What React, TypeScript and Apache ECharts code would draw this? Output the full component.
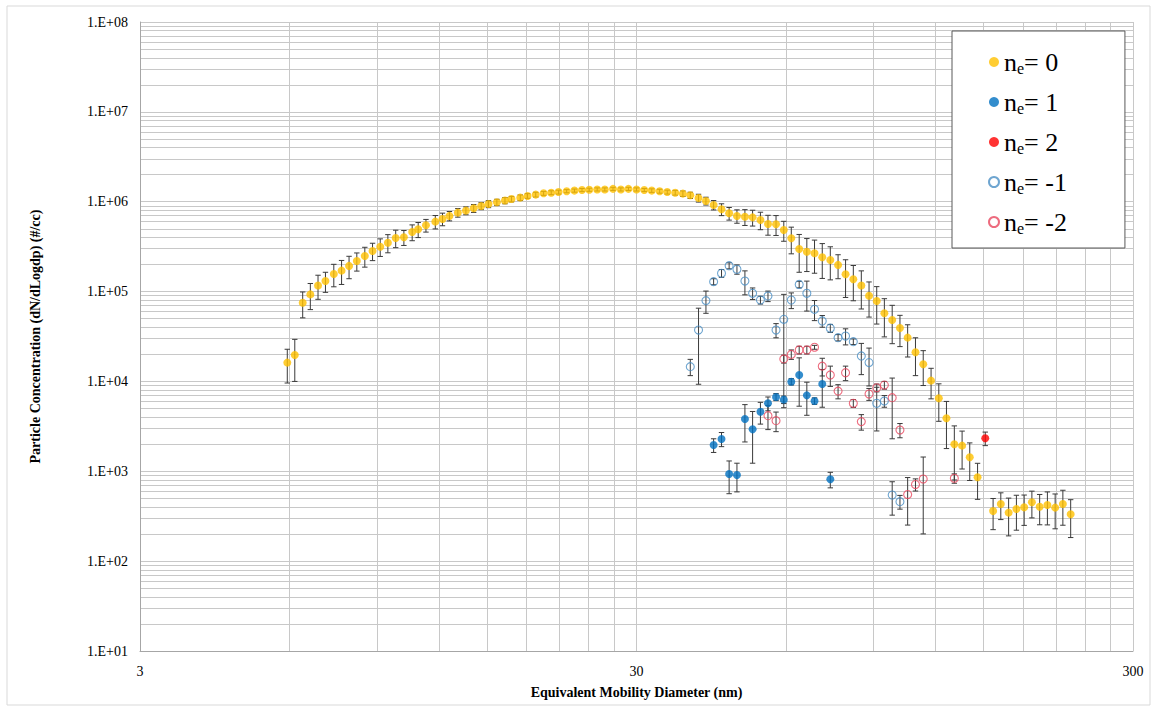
import React, { useEffect, useRef } from 'react';
import * as echarts from 'echarts';

// Mobility diameters (nm), SMPS channel midpoints
const diameters = [
  5.94, 6.15, 6.38, 6.61, 6.85, 7.09, 7.37, 7.64, 7.91, 8.2, 8.51, 8.82, 9.14, 9.47, 9.82, 10.2,
  10.6, 10.9, 11.3, 11.8, 12.2, 12.6, 13.1, 13.6, 14.1, 14.6, 15.1, 15.7, 16.3, 16.8, 17.5, 18.1,
  18.8, 19.5, 20.2, 20.9, 21.7, 22.5, 23.3, 24.1, 25.0, 25.9, 26.9, 27.9, 28.9, 30.0, 31.1, 32.2,
  33.4, 34.6, 35.9, 37.2, 38.5, 40.0, 41.4, 42.9, 44.5, 46.1, 47.8, 49.6, 51.4, 53.3, 55.2, 57.3,
  59.4, 61.5, 63.8, 66.1, 68.5, 71.0, 73.7, 76.4, 79.1, 82.0, 85.1, 88.2, 91.4, 94.7, 98.2, 101.8,
  105.5, 109.4, 113.4, 117.6, 121.9, 126.3, 131.0, 135.8, 140.7, 145.9, 151.2, 156.8, 162.5, 168.5,
  174.7, 181.1, 187.7, 194.6, 201.7, 209.1, 216.7, 224.7,
];

// n_e = 0
const ne0 = [
  16200, 19700, 75000, 93000, 117000, 131000, 157000, 171000, 193000, 219000, 249000, 283000,
  316000, 350000, 395000, 402000, 460000, 493000, 547000, 600000, 643000, 695000, 756000, 796000,
  845000, 896000, 944000, 985000, 1030000, 1070000, 1110000, 1160000, 1200000, 1240000, 1260000,
  1280000, 1310000, 1330000, 1350000, 1360000, 1370000, 1370000, 1390000, 1370000, 1390000, 1370000,
  1350000, 1330000, 1310000, 1280000, 1260000, 1230000, 1180000, 1100000, 1020000, 920000, 824000,
  743000, 694000, 680000, 670000, 626000, 565000, 561000, 484000, 392000, 298000, 278000, 267000,
  241000, 225000, 198000, 156000, 137000, 117000, 90000, 78500, 57300, 48300, 39400, 30700, 21100,
  15500, 10200, 6500, 3890, 2000, 1930, 1430, 857, null, 361, 433, 347, 381, 397, 452, 403, 421,
  394, 433, 333,
];
const ne0Err = [
  6600, 9700, 24000, 30000, 35000, 33000, 44000, 51000, 54000, 50000, 62000, 62000, 70000, 80000,
  87000, 76000, 92000, 94000, 88000, 102000, 103000, 83000, 83000, 80000, 85000, 81000, 85000,
  79000, 82000, 75000, 78000, 70000, 72000, 62000, 63000, 64000, 52000, 53000, 54000, 54000, 55000,
  55000, 56000, 55000, 56000, 55000, 54000, 60000, 66000, 64000, 76000, 86000, 94000, 110000,
  102000, 110000, 124000, 119000, 118000, 136000, 134000, 138000, 141000, 140000, 121000, 129000,
  134000, 111000, 107000, 101000, 90000, 59000, 70000, 58000, 53000, 38000, 35000, 26000, 22000,
  15000, 12000, 9500, 6500, 3800, 2900, 2100, 1200, 870, 640, 370, null, 137, 143, 156, 160, 147,
  149, 149, 168, 165, 182, 150,
];

// n_e = 1
const ne1Diam = [42.9, 44.5, 46.1, 47.8, 49.6, 51.4, 53.3, 55.2, 57.3, 59.4, 61.5, 63.8, 66.1, 68.5, 71.0, 73.7];
const ne1 = [1960, 2290, 933, 910, 3820, 2930, 4600, 5710, 6720, 6270, 9930, 11800, 7000, 6060, 9360, 814];
const ne1Err = [340, 410, 370, 320, 1700, 1700, 1250, 1000, 600, 600, 800, 6500, 2800, 500, 4200, 160];

// n_e = 2
const ne2Diam = [151.2];
const ne2 = [2330];
const ne2Err = [400];

// n_e = -1
const neM1Diam = [
  38.5, 40.0, 41.4, 42.9, 44.5, 46.1, 47.8, 49.6, 51.4, 53.3, 55.2, 57.3, 59.4, 61.5, 63.8, 66.1,
  68.5, 71.0, 73.7, 76.4, 79.1, 82.0, 85.1, 88.2, 91.4, 94.7, 98.2, 101.8,
];
const neM1 = [
  14600, 37300, 79300, 129000, 160000, 194000, 177000, 131000, 95700, 80600, 89300, 37300, 49100,
  80600, 120000, 95700, 63500, 47100, 39100, 30700, 32000, 27700, 19200, 16200, 5710, 6060, 545, 459,
];
const neM1Err = [
  3000, 28000, 22000, 10000, 16000, 15000, 21000, 39000, 14000, 8000, 12000, 6700, 44000, 16000,
  10000, 35000, 16000, 7000, 4000, 2500, 6500, 2000, 7300, 7300, 2900, 900, 220, 80,
];

// n_e = -2
const neM2Diam = [
  55.2, 57.3, 59.4, 61.5, 63.8, 66.1, 68.5, 71.0, 73.7, 76.4, 79.1, 82.0, 85.1, 88.2, 91.4, 94.7,
  98.2, 101.8, 105.5, 109.4, 113.4, 131.0,
];
const neM2 = [
  4160, 3660, 17800, 20000, 22400, 22400, 24000, 14800, 11800, 7800, 12500, 5710, 3570, 7250, 8500,
  9100, 6600, 2880, 552, 713, 821, 836,
];
const neM2Err = [
  1250, 900, 1800, 2400, 2200, 2200, 1200, 3300, 3000, 1400, 2300, 570, 700, 1100, 850, 900, 4300,
  520, 300, 110, 620, 100,
];

const legendLabels = ['0', '1', '2', '-1', '-2'];
const xLabelValues = [3, 30, 300];
const xGridValues = [3, 6, 9, 12, 15, 18, 21, 24, 27, 30, 60, 90, 120, 150, 180, 210, 240, 270, 300];
const yLabelValues = [1e1, 1e2, 1e3, 1e4, 1e5, 1e6, 1e7, 1e8];
const yGridValues: number[] = [];
for (let d = 0; d < yLabelValues.length - 1; d++) {
  for (let m = 1; m <= 9; m++) yGridValues.push(yLabelValues[d] * m);
}
yGridValues.push(1e8);

const FONT = "'Liberation Serif', 'Times New Roman', serif";

type Grp = { key: string; label: string; x: number[]; y: (number | null)[]; err: (number | null)[]; color: string; hollow: boolean };

const groups: Grp[] = [
  { key: 'ne0', label: legendLabels[0], x: diameters, y: ne0, err: ne0Err, color: '#FFC000', hollow: false },
  { key: 'ne1', label: legendLabels[1], x: ne1Diam, y: ne1, err: ne1Err, color: '#0070C0', hollow: false },
  { key: 'ne2', label: legendLabels[2], x: ne2Diam, y: ne2, err: ne2Err, color: '#FF0000', hollow: false },
  { key: 'neM1', label: legendLabels[3], x: neM1Diam, y: neM1, err: neM1Err, color: '#4A8FC4', hollow: true },
  { key: 'neM2', label: legendLabels[4], x: neM2Diam, y: neM2, err: neM2Err, color: '#E8465E', hollow: true },
];

function buildOption() {
  const series: any[] = [];
  groups.forEach((g) => {
    const pts: number[][] = [];
    const bars: number[][] = [];
    g.x.forEach((d, i) => {
      const v = g.y[i];
      const e = g.err[i];
      if (v == null) return;
      pts.push([d, v]);
      if (e != null) bars.push([d, Math.max(v - e, 10), v + e]);
    });
    series.push({
      name: g.key + '_err',
      type: 'custom',
      data: bars,
      encode: { x: 0, y: [1, 2] },
      z: 1,
      silent: true,
      renderItem: (params: any, api: any) => {
        const x = api.value(0);
        const lo = api.coord([x, api.value(1)]);
        const hi = api.coord([x, api.value(2)]);
        const w = 2.7;
        const st = { stroke: '#3a3a3a', lineWidth: 1 };
        return {
          type: 'group',
          children: [
            { type: 'line', shape: { x1: lo[0], y1: lo[1], x2: hi[0], y2: hi[1] }, style: st },
            { type: 'line', shape: { x1: lo[0] - w, y1: lo[1], x2: lo[0] + w, y2: lo[1] }, style: st },
            { type: 'line', shape: { x1: hi[0] - w, y1: hi[1], x2: hi[0] + w, y2: hi[1] }, style: st },
          ],
        };
      },
    });
  });
  groups.forEach((g) => {
    const pts: number[][] = [];
    g.x.forEach((d, i) => {
      const v = g.y[i];
      if (v != null) pts.push([d, v]);
    });
    series.push({
      name: g.key,
      type: 'scatter',
      data: pts,
      symbol: 'circle',
      symbolSize: g.hollow ? 8 : 8,
      z: 3,
      itemStyle: g.hollow
        ? { color: 'rgba(255,255,255,0)', borderColor: g.color, borderWidth: 1.1 }
        : { color: g.color, borderWidth: 0 },
    });
  });

  return {
    animation: false,
    backgroundColor: '#ffffff',
    textStyle: { fontFamily: FONT },
    grid: { left: 140, right: 24, top: 22, bottom: 60, show: false },
    graphic: [
      {
        type: 'rect',
        shape: { x: 7, y: 6, width: 1143, height: 699 },
        style: { fill: 'none', stroke: '#d9d9d9', lineWidth: 1 },
        silent: true,
        z: -10,
      },
    ],
    legend: {
      orient: 'vertical',
      left: 952,
      top: 31,
      data: groups.map((g) => ({ name: g.key, icon: 'circle' })),
      itemWidth: 10,
      itemHeight: 10,
      itemGap: 13,
      padding: [18, 58, 12, 36],
      backgroundColor: '#ffffff',
      borderColor: '#595959',
      borderWidth: 1,
      selectedMode: false,
      formatter: (name: string) => {
        const g = groups.find((q) => q.key === name)!;
        return `{n|n}{e|e}{n|= ${g.label}}`;
      },
      textStyle: {
        fontFamily: FONT,
        fontSize: 26,
        color: '#000',
        rich: {
          n: { fontFamily: FONT, fontSize: 26, lineHeight: 26, color: '#000', verticalAlign: 'top' },
          e: { fontFamily: FONT, fontSize: 16, lineHeight: 16, color: '#000', verticalAlign: 'top', padding: [11, 0, 0, 0] },
        },
      },
    },
    xAxis: {
      type: 'log',
      logBase: 10,
      min: 3,
      max: 300,
      name: 'Equivalent Mobility Diameter (nm)',
      nameLocation: 'middle',
      nameGap: 34,
      nameTextStyle: { fontFamily: FONT, fontWeight: 'bold', fontSize: 14, color: '#000' },
      axisLine: { show: true, lineStyle: { color: '#a6a6a6', width: 1 } },
      axisTick: { show: false, customValues: xGridValues },
      axisLabel: {
        customValues: xLabelValues,
        fontFamily: FONT,
        fontSize: 14,
        color: '#000',
        margin: 13,
        formatter: (v: number) => String(Math.round(v)),
      },
      splitLine: { show: true, lineStyle: { color: '#c8c8c8', width: 1 } },
      minorSplitLine: { show: false },
    },
    yAxis: {
      type: 'log',
      logBase: 10,
      min: 10,
      max: 1e8,
      name: 'Particle Concentration (dN/dLogdp) (#/cc)',
      nameLocation: 'middle',
      nameGap: 98,
      nameTextStyle: { fontFamily: FONT, fontWeight: 'bold', fontSize: 14, color: '#000' },
      axisLine: { show: true, lineStyle: { color: '#a6a6a6', width: 1 } },
      axisTick: { show: false, customValues: yGridValues },
      axisLabel: {
        customValues: yLabelValues,
        fontFamily: FONT,
        fontSize: 14,
        color: '#000',
        margin: 12,
        formatter: (v: number) => {
          const e = Math.round(Math.log10(v));
          return '1.E+' + (e < 10 ? '0' : '') + e;
        },
      },
      splitLine: { show: true, lineStyle: { color: '#c8c8c8', width: 1 } },
      minorSplitLine: { show: false },
    },
    series,
  };
}

export default function App() {
  const ref = useRef<HTMLDivElement>(null);
  useEffect(() => {
    if (!ref.current) return;
    const chart = echarts.init(ref.current, null, { renderer: 'svg' });
    chart.setOption(buildOption() as any);
    return () => chart.dispose();
  }, []);
  return (
    <div
      ref={ref}
      style={{ position: 'fixed', left: 0, top: 0, width: 1157, height: 711, background: '#fff' }}
    />
  );
}
